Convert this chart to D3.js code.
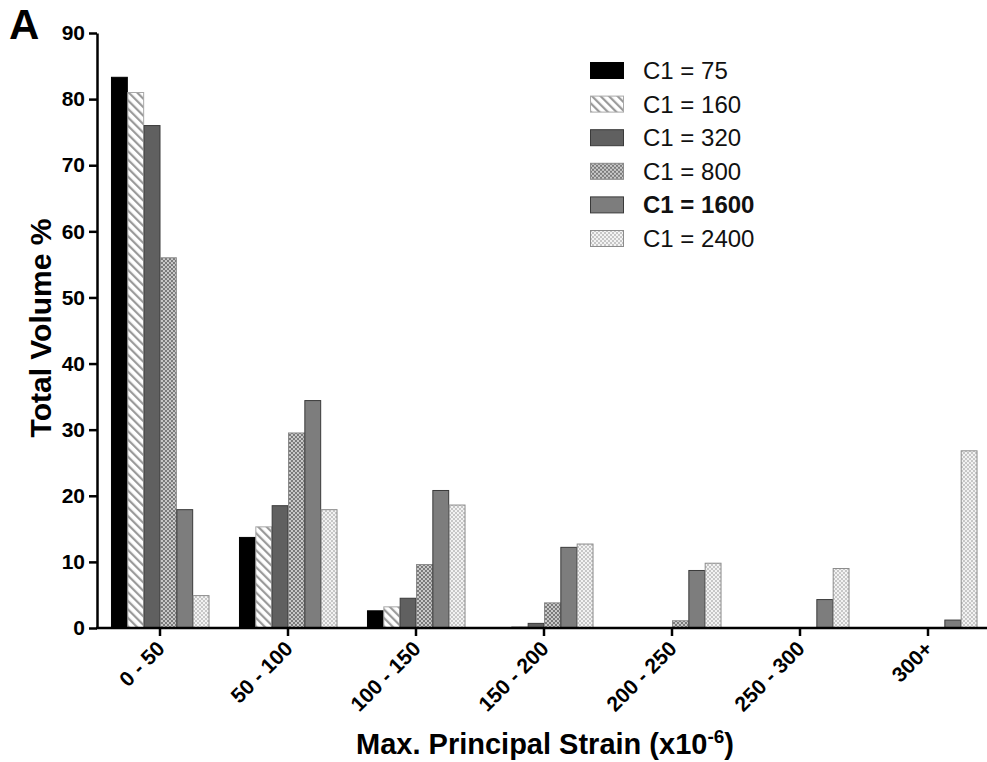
<!DOCTYPE html>
<html>
<head>
<meta charset="utf-8">
<script src="https://cdn.jsdelivr.net/npm/d3@7"></script>
<style>
  html, body { margin: 0; padding: 0; background: #fff; }
  svg { display: block; font-family: "Liberation Sans", Arial, Helvetica, sans-serif; }
</style>
</head>
<body>
<svg id="chart" width="987" height="762"></svg>
<script>
// Strain bins (x categories)
const categories = ["0 - 50", "50 - 100", "100 - 150", "150 - 200", "200 - 250", "250 - 300", "300+"];

// Total volume % per bin for each C1 value
const c1_75   = [83.3, 13.7, 2.6, 0,   0,   0,   0];
const c1_160  = [81.0, 15.3, 3.2, 0.2, 0,   0,   0];
const c1_320  = [76.0, 18.5, 4.5, 0.7, 0,   0,   0];
const c1_800  = [56.0, 29.5, 9.6, 3.8, 1.1, 0,   0];
const c1_1600 = [17.9, 34.4, 20.8, 12.2, 8.7, 4.3, 1.2];
const c1_2400 = [4.9, 17.9, 18.6, 12.7, 9.8, 9.0, 26.8];

const seriesNames = ["C1 = 75", "C1 = 160", "C1 = 320", "C1 = 800", "C1 = 1600", "C1 = 2400"];
const seriesValues = [c1_75, c1_160, c1_320, c1_800, c1_1600, c1_2400];
const yTicks = [0, 10, 20, 30, 40, 50, 60, 70, 80, 90];

const svg = d3.select("#chart");
const defs = svg.append("defs");

// Fill patterns
const hatch = defs.append("pattern").attr("id", "p160")
  .attr("patternUnits", "userSpaceOnUse").attr("width", 6).attr("height", 6)
  .attr("patternTransform", "rotate(-45)");
hatch.append("rect").attr("width", 6).attr("height", 6).attr("fill", "#fff");
hatch.append("rect").attr("x", 0).attr("y", 0).attr("width", 2.2).attr("height", 6).attr("fill", "#9a9a9a");

function checker(id, a, b) {
  const p = defs.append("pattern").attr("id", id)
    .attr("patternUnits", "userSpaceOnUse").attr("width", 4).attr("height", 4);
  p.append("rect").attr("width", 4).attr("height", 4).attr("fill", b);
  p.append("rect").attr("x", 0).attr("y", 0).attr("width", 2).attr("height", 2).attr("fill", a);
  p.append("rect").attr("x", 2).attr("y", 2).attr("width", 2).attr("height", 2).attr("fill", a);
}
checker("p800", "#7a7a7a", "#cacaca");
checker("p2400", "#c6c6c6", "#f3f3f3");

const fills = ["#000", "url(#p160)", "#606060", "url(#p800)", "#7d7d7d", "url(#p2400)"];
const strokes = ["#000", "#a8a8a8", "#3a3a3a", "#8a8a8a", "#3a3a3a", "#8c8c8c"];

// Scales
const x = d3.scaleBand().domain(categories).range([96, 992])
  .paddingInner(0.234).paddingOuter(0.117);
const xs = d3.scaleBand().domain(d3.range(seriesNames.length)).range([0, x.bandwidth()]);
const y = d3.scaleLinear().domain([0, 90]).range([628, 33]);

// Bars
const groups = svg.append("g").selectAll("g")
  .data(categories).join("g")
  .attr("transform", d => `translate(${x(d)},0)`);

groups.selectAll("rect")
  .data((d, i) => seriesValues.map((vals, s) => ({ s, v: vals[i] })).filter(e => e.v > 0))
  .join("rect")
  .attr("x", d => xs(d.s) + 0.5)
  .attr("width", xs.bandwidth() - 0.5)
  .attr("y", d => y(d.v))
  .attr("height", d => y(0) - y(d.v))
  .attr("fill", d => fills[d.s])
  .attr("stroke", d => strokes[d.s])
  .attr("stroke-width", 1);

// Y axis
const yAxis = svg.append("g").attr("transform", "translate(97,0)")
  .call(d3.axisLeft(y).tickValues(yTicks).tickSize(8).tickPadding(4).tickSizeOuter(0));
yAxis.select(".domain").attr("stroke", "#000").attr("stroke-width", 2.5);
yAxis.selectAll(".tick line").attr("stroke", "#000").attr("stroke-width", 2.5);
yAxis.selectAll(".tick text").attr("font-size", 21).attr("font-weight", "bold").attr("fill", "#000")
  .attr("font-family", "Liberation Sans, Arial, sans-serif");

// X axis
const xAxis = svg.append("g").attr("transform", "translate(0,628)")
  .call(d3.axisBottom(x).tickSize(8).tickSizeOuter(0));
xAxis.select(".domain").attr("stroke", "#000").attr("stroke-width", 2.5)
  .attr("d", "M96,0H992");
xAxis.selectAll(".tick line").attr("stroke", "#000").attr("stroke-width", 2.5);
xAxis.selectAll(".tick text")
  .attr("font-size", 21).attr("font-weight", "bold").attr("fill", "#000")
  .attr("font-family", "Liberation Sans, Arial, sans-serif")
  .attr("text-anchor", "end")
  .attr("x", 0).attr("y", 0).attr("dy", null)
  .attr("transform", "translate(6,22) rotate(-45)");

// Axis titles
svg.append("text")
  .attr("transform", "translate(51,328) rotate(-90)")
  .attr("text-anchor", "middle")
  .attr("font-size", 30).attr("font-weight", "bold")
  .text("Total Volume %");

const xt = svg.append("text")
  .attr("x", 545).attr("y", 754)
  .attr("text-anchor", "middle")
  .attr("font-size", 29).attr("font-weight", "bold");
xt.append("tspan").text("Max. Principal Strain (x10");
xt.append("tspan").attr("font-size", 19).attr("dy", -11).text("-6");
xt.append("tspan").attr("dy", 11).text(")");

// Panel letter
svg.append("text").attr("x", 9).attr("y", 39)
  .attr("font-size", 42).attr("font-weight", "bold").text("A");

// Legend
const legend = svg.append("g").attr("transform", "translate(590,62)");
const rows = legend.selectAll("g").data(seriesNames).join("g")
  .attr("transform", (d, i) => `translate(0,${i * 33.6})`);
rows.append("rect").attr("x", 0.5).attr("y", 0.5).attr("width", 33).attr("height", 16)
  .attr("fill", (d, i) => fills[i]).attr("stroke", (d, i) => strokes[i]).attr("stroke-width", 1);
rows.append("text").attr("x", 53).attr("y", 17)
  .attr("font-size", 24)
  .attr("font-weight", (d, i) => i === 4 ? "bold" : "normal")
  .attr("fill", "#111")
  .text(d => d);
</script>
</body>
</html>
